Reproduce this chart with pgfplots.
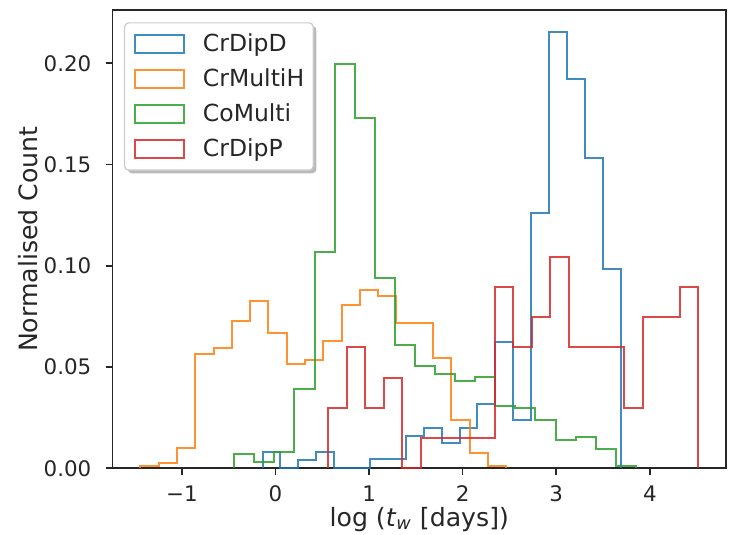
\documentclass[border=0pt]{standalone}
\usepackage{fontspec}
\setmainfont{DejaVu Sans}
\usepackage{pgfplots}
\pgfplotsset{compat=1.18}
\usetikzlibrary{shadows}
\definecolor{tabblue}{HTML}{1F77B4}
\definecolor{taborange}{HTML}{FF7F0E}
\definecolor{tabgreen}{HTML}{2CA02C}
\definecolor{tabred}{HTML}{D62728}
\newcommand{\tickfont}{\fontsize{10.7}{12.8}\selectfont}
\newcommand{\legfont}{\fontsize{11.75}{14}\selectfont}
\newcommand{\labfont}{\fontsize{12.6}{15}\selectfont}
\makeatletter
\tikzset{noshadow/.code={\let\tikz@preactions\pgfutil@empty}}
\makeatother
\begin{document}
\begin{tikzpicture}
\begin{axis}[name=ax, scale only axis, width=306.75pt, height=229.15pt,
  xmin=-1.742, xmax=4.814, ymin=0, ymax=0.2263,
  xtick={-1,0,1,2,3,4}, xticklabels={−1,0,1,2,3,4},
  ytick={0,0.05,0.1,0.15,0.2}, yticklabels={0.00,0.05,0.10,0.15,0.20},
  minor tick num=0,
  tick align=outside, xtick pos=bottom, ytick pos=left,
  major tick length=3.2pt,
  every tick/.style={black!85, line width=0.8pt},
  axis line style={black!85, line width=0.9pt},
  xticklabel style={font=\tickfont, inner sep=0pt, anchor=base, yshift=-13.35pt, text=black!85},
  yticklabel style={font=\tickfont, inner sep=0pt, anchor=east, xshift=-7.2pt, text=black!85},
  xlabel={log (\textit{t}\textsubscript{\textit{w}} [days])},
  ylabel={Normalised Count},
  xlabel style={font=\labfont, at={(rel axis cs:0.5,0)}, anchor=base, yshift=-29pt, inner sep=0pt, text=black!85},
  ylabel style={font=\labfont, at={(rel axis cs:-0.137,0.5)}, anchor=center, inner sep=0pt, text=black!85},
  legend image code/.code={\draw[noshadow,#1,noshadow,sharp corners] (0pt,-4.6pt) rectangle (24.7pt,4.6pt);},
  legend cell align=left,
  legend style={at={(rel axis cs:0,1)}, xshift=5.75pt, yshift=-6.15pt, anchor=north west,
    draw=black!20, fill=white, rounded corners=2pt, line width=0.6pt,
    drop shadow={shadow xshift=1.6pt, shadow yshift=-1.6pt, fill=black!45, opacity=0.6},
    inner xsep=4.5pt, inner ysep=1.8pt, row sep=0pt,
    nodes={font=\legfont, inner sep=0pt, minimum height=17.5pt, text=black!85},
    /tikz/every odd column/.append style={column sep=9pt}},
  every axis plot/.append style={const plot, line width=1pt, opacity=0.85},
]
\addplot[tabblue] coordinates {(-0.139,0) (-0.139,0.0079) (0.0525,0) (0.2439,0.0041) (0.4354,0.0082) (0.6268,0) (0.8183,0) (1.0097,0.0044) (1.2012,0.0044) (1.3926,0.0160) (1.5841,0.0198) (1.7755,0.0123) (1.967,0.0198) (2.1584,0.0318) (2.3499,0.0625) (2.5413,0.0239) (2.7328,0.1259) (2.9242,0.2156) (3.1157,0.1922) (3.3071,0.1531) (3.4986,0.0984) (3.69,0)};
\addlegendentry{CrDipD}
\addplot[taborange] coordinates {(-1.444,0) (-1.444,0.0012) (-1.2486,0.0025) (-1.0532,0.0102) (-0.8578,0.0564) (-0.6624,0.0596) (-0.467,0.0727) (-0.2716,0.0824) (-0.0762,0.0667) (0.1192,0.0516) (0.3146,0.0535) (0.51,0.0629) (0.7054,0.0806) (0.9008,0.0880) (1.0962,0.0851) (1.2916,0.0718) (1.487,0.0718) (1.6824,0.0543) (1.8778,0.0239) (2.0732,0.0074) (2.2686,0.0013) (2.464,0)};
\addlegendentry{CrMultiH}
\addplot[tabgreen] coordinates {(-0.441,0) (-0.441,0.0069) (-0.2264,0.0033) (-0.0118,0.0082) (0.2028,0.0391) (0.4174,0.1070) (0.632,0.1997) (0.8466,0.1728) (1.0612,0.0940) (1.2758,0.0607) (1.4904,0.0504) (1.705,0.0466) (1.9196,0.0433) (2.1342,0.0452) (2.3488,0.0308) (2.5634,0.0296) (2.778,0.0239) (2.9926,0.0142) (3.2072,0.0155) (3.4218,0.0095) (3.6364,0.0011) (3.851,0)};
\addlegendentry{CoMulti}
\addplot[tabred] coordinates {(0.566,0) (0.566,0.0299) (0.7635,0.0597) (0.961,0.0299) (1.1585,0.0448) (1.356,0) (1.5535,0.0149) (1.751,0.0149) (1.9485,0.0149) (2.146,0.0149) (2.3435,0.0896) (2.541,0.0597) (2.7385,0.0746) (2.936,0.1045) (3.1335,0.0597) (3.331,0.0597) (3.5285,0.0597) (3.726,0.0299) (3.9235,0.0746) (4.121,0.0746) (4.3185,0.0896) (4.516,0)};
\addlegendentry{CrDipP}
\end{axis}
\pgfresetboundingbox
\path (ax.south west) ++(-56.25pt,-33.35pt) rectangle ([xshift=2pt,yshift=5pt]ax.north east);
\end{tikzpicture}
\end{document}
